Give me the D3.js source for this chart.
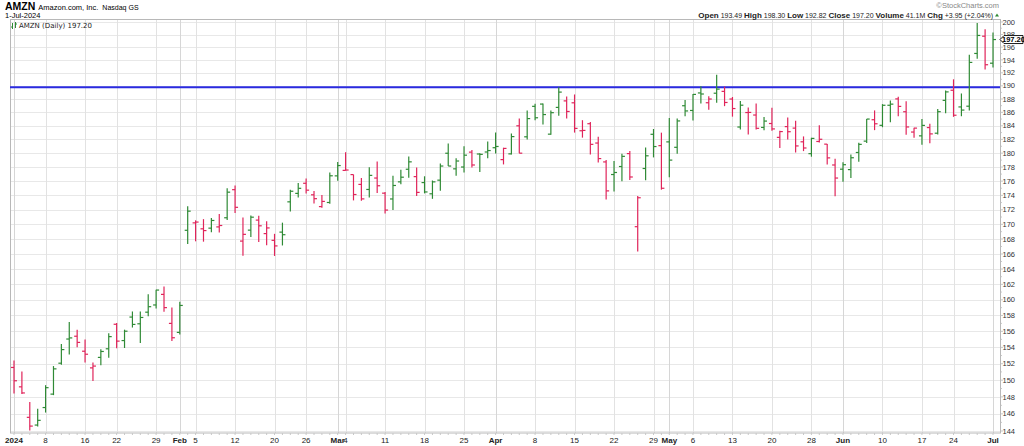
<!DOCTYPE html>
<html><head><meta charset="utf-8">
<script src="https://cdn.jsdelivr.net/npm/d3@7"></script>
<style>body{margin:0;background:#fff}svg{display:block;font-family:"Liberation Sans",Arial,sans-serif}</style>
</head><body><svg id="c" width="1024" height="446"></svg>
<script>
const dates = [
"2024-01-02","2024-01-03","2024-01-04","2024-01-05","2024-01-08","2024-01-09","2024-01-10","2024-01-11","2024-01-12","2024-01-16","2024-01-17","2024-01-18","2024-01-19","2024-01-22","2024-01-23","2024-01-24","2024-01-25","2024-01-26","2024-01-29","2024-01-30","2024-01-31",
"2024-02-01","2024-02-02","2024-02-05","2024-02-06","2024-02-07","2024-02-08","2024-02-09","2024-02-12","2024-02-13","2024-02-14","2024-02-15","2024-02-16","2024-02-20","2024-02-21","2024-02-22","2024-02-23","2024-02-26","2024-02-27","2024-02-28","2024-02-29",
"2024-03-01","2024-03-04","2024-03-05","2024-03-06","2024-03-07","2024-03-08","2024-03-11","2024-03-12","2024-03-13","2024-03-14","2024-03-15","2024-03-18","2024-03-19","2024-03-20","2024-03-21","2024-03-22","2024-03-25","2024-03-26","2024-03-27","2024-03-28",
"2024-04-01","2024-04-02","2024-04-03","2024-04-04","2024-04-05","2024-04-08","2024-04-09","2024-04-10","2024-04-11","2024-04-12","2024-04-15","2024-04-16","2024-04-17","2024-04-18","2024-04-19","2024-04-22","2024-04-23","2024-04-24","2024-04-25","2024-04-26","2024-04-29","2024-04-30",
"2024-05-01","2024-05-02","2024-05-03","2024-05-06","2024-05-07","2024-05-08","2024-05-09","2024-05-10","2024-05-13","2024-05-14","2024-05-15","2024-05-16","2024-05-17","2024-05-20","2024-05-21","2024-05-22","2024-05-23","2024-05-24","2024-05-28","2024-05-29","2024-05-30","2024-05-31",
"2024-06-03","2024-06-04","2024-06-05","2024-06-06","2024-06-07","2024-06-10","2024-06-11","2024-06-12","2024-06-13","2024-06-14","2024-06-17","2024-06-18","2024-06-20","2024-06-21","2024-06-24","2024-06-25","2024-06-26","2024-06-27","2024-06-28",
"2024-07-01"];
const opens = [
151.54,149.20,145.59,144.69,146.74,148.33,152.06,155.04,155.39,153.53,151.49,152.77,153.83,156.89,154.85,157.80,156.95,158.42,159.34,160.70,157.00,
155.87,169.19,170.20,169.39,169.48,169.65,170.90,174.80,167.73,169.21,170.58,168.74,167.83,168.94,173.10,174.28,175.70,174.08,172.44,173.01,
176.75,177.53,176.93,175.54,174.83,176.44,174.31,173.50,175.90,177.69,176.64,175.80,174.22,176.14,179.99,177.75,178.01,180.15,179.88,180.17,
180.79,179.07,179.90,184.00,182.38,186.90,187.24,182.77,186.74,187.72,187.43,183.27,184.31,181.47,178.74,176.94,178.08,179.94,169.68,177.80,182.75,181.09,
181.64,180.85,186.99,186.28,188.92,187.44,188.88,189.16,188.00,183.82,185.97,185.60,183.76,184.34,182.30,183.88,183.66,181.65,179.93,181.70,181.31,178.30,
177.70,177.64,180.10,181.75,184.90,184.07,187.06,188.02,186.09,183.08,182.52,183.74,182.91,187.80,189.33,186.81,186.92,195.01,197.73,
193.49];
const highs = [
152.38,151.05,147.38,146.59,149.40,151.71,154.42,157.17,156.20,154.99,152.15,153.78,155.76,157.05,156.21,158.51,158.51,160.72,161.29,161.73,159.01,
159.76,172.50,170.55,170.71,170.88,171.43,175.00,175.39,170.95,171.21,171.17,170.42,168.71,170.23,174.80,175.75,176.37,174.62,174.05,177.22,
178.73,180.14,176.93,176.46,177.99,178.79,174.47,176.76,177.62,179.53,177.93,176.69,176.09,178.53,181.42,179.26,180.99,180.45,180.00,181.70,
183.00,180.79,182.87,185.10,186.27,187.29,187.34,186.27,189.77,188.38,188.69,184.83,184.57,182.39,179.00,178.87,179.93,180.32,173.92,180.82,183.53,182.99,
185.15,185.10,187.87,188.75,189.94,188.43,191.70,189.89,188.31,187.72,186.72,187.31,185.30,186.67,183.26,185.22,184.76,182.44,182.24,184.08,181.34,179.21,
178.70,179.82,181.50,185.00,186.29,187.23,187.77,188.35,187.67,183.72,185.00,184.29,186.51,189.28,191.00,188.84,194.80,199.84,198.85,
198.30];
const lows = [
148.39,148.33,144.05,144.53,146.15,148.21,151.88,153.12,154.01,152.15,149.91,151.82,152.74,153.90,153.93,156.48,154.55,157.91,158.90,158.49,154.81,
155.62,167.33,167.70,167.65,168.94,168.88,170.58,171.54,165.75,168.28,167.59,167.17,165.74,167.14,171.77,173.70,174.26,172.86,172.27,172.85,
176.07,177.49,173.30,173.26,173.72,174.33,171.47,171.98,175.55,176.47,173.90,174.28,173.52,174.64,178.15,176.75,177.24,177.95,177.31,179.26,
179.95,178.38,179.80,180.00,181.97,184.81,184.20,182.67,185.51,185.08,183.00,182.26,179.82,178.65,173.44,174.56,175.98,176.18,166.32,176.13,179.39,174.80,
176.56,179.91,185.42,184.80,187.31,186.39,187.44,186.93,185.36,183.45,182.73,183.46,183.35,183.28,180.75,181.97,180.08,180.30,179.49,181.55,178.36,173.87,
175.92,176.44,178.75,181.49,183.36,183.79,184.54,185.43,182.67,182.23,181.22,181.43,182.72,185.86,185.33,185.42,186.26,194.20,192.50,
192.82];
const closes = [
149.93,148.47,144.57,145.24,149.10,151.37,153.73,155.18,154.62,153.16,151.71,153.50,155.34,154.78,156.02,156.87,157.75,159.12,161.26,159.00,155.20,
159.28,171.81,170.31,169.15,170.53,169.84,174.45,172.34,168.64,170.98,169.80,169.51,167.08,168.59,174.58,174.99,174.73,173.54,173.16,176.76,
178.22,177.58,174.12,173.51,176.82,175.35,171.96,175.39,176.56,178.75,174.42,174.48,175.90,178.15,178.15,178.87,179.71,178.30,179.83,180.38,
180.97,180.69,182.41,180.00,185.07,185.19,185.67,185.95,189.05,186.13,183.62,183.32,181.28,179.22,174.63,177.23,179.54,176.59,173.67,179.62,180.96,175.00,
179.00,184.72,186.21,188.70,188.76,188.00,189.50,187.48,186.57,187.07,185.99,183.63,184.70,183.54,183.15,183.13,181.05,180.75,182.15,182.02,179.32,176.44,
178.34,179.34,181.28,185.00,184.30,187.06,187.23,186.89,183.83,183.66,184.06,182.81,186.10,189.08,185.57,186.34,193.61,197.85,193.25,
197.20];
const prevClose = 151.94;
const lineLevel = 189.8;
const yTicks = [144,146,148,150,152,154,156,158,160,162,164,166,168,170,172,174,176,178,180,182,184,186,188,190,192,194,196,198,200];
const xTickDates = ["2024-01-02","2024-01-08","2024-01-16","2024-01-22","2024-01-29","2024-02-01","2024-02-05","2024-02-12","2024-02-20","2024-02-26","2024-03-01","2024-03-04","2024-03-11","2024-03-18","2024-03-25","2024-04-01","2024-04-08","2024-04-15","2024-04-22","2024-04-29","2024-05-01","2024-05-06","2024-05-13","2024-05-20","2024-05-28","2024-06-03","2024-06-10","2024-06-17","2024-06-24","2024-07-01"];
const xTickLabels = ["2024","8","16","22","29","Feb","5","12","20","26","Mar","4","11","18","25","Apr","8","15","22","29","May","6","13","20","28","Jun","10","17","24","Jul"];
const xTickBold = [1,0,0,0,0,1,0,0,0,0,1,0,0,0,0,1,0,0,0,0,1,0,0,0,0,1,0,0,0,1];

const L=10, R=1000, T=19.5, B=433;
const GREEN="#2f8a35", RED="#e0245a";
const svg=d3.select("#c");
const x=d3.scalePoint().domain(dates).range([14,993]);
const y=d3.scaleLog().domain([143.77,200.4]).range([B,T]);

// horizontal grid
svg.append("g").selectAll("line").data(yTicks).join("line")
  .attr("x1",L).attr("x2",R).attr("y1",d=>Math.round(y(d))+0.5).attr("y2",d=>Math.round(y(d))+0.5)
  .attr("stroke","#e8e8e8").attr("stroke-width",1);
// vertical grid
svg.append("g").selectAll("line").data(xTickDates).join("line")
  .attr("x1",d=>Math.round(x(d))+0.5).attr("x2",d=>Math.round(x(d))+0.5).attr("y1",T).attr("y2",B)
  .attr("stroke",(d,i)=>xTickBold[i]?"#d6d6d6":"#e2e2e2").attr("stroke-width",1);
// border
svg.append("rect").attr("x",L+0.5).attr("y",T).attr("width",R-L).attr("height",B-T)
  .attr("fill","none").attr("stroke","#b8b8b8").attr("stroke-width",1);
// minor x ticks
svg.append("g").selectAll("line").data(dates).join("line")
  .attr("x1",d=>x(d)).attr("x2",d=>x(d)).attr("y1",B).attr("y2",B+2)
  .attr("stroke","#c8c8c8").attr("stroke-width",1);
// right axis ticks
const minor=d3.range(144,201,1);
svg.append("g").selectAll("line").data(minor).join("line")
  .attr("x1",R).attr("x2",d=>R+(d%2===0?3:2)).attr("y1",d=>y(d)).attr("y2",d=>y(d))
  .attr("stroke","#bbb").attr("stroke-width",0.8);

// blue horizontal line
svg.append("line").attr("x1",L).attr("x2",R).attr("y1",y(lineLevel)).attr("y2",y(lineLevel))
  .attr("stroke","#2a2ae0").attr("stroke-width",2);

// OHLC bars
const idx=d3.range(dates.length);
const col=i=>closes[i]>=(i===0?prevClose:closes[i-1])?GREEN:RED;
const g=svg.append("g");
g.selectAll("line.hl").data(idx).join("line").attr("class","hl")
  .attr("x1",i=>x(dates[i])).attr("x2",i=>x(dates[i]))
  .attr("y1",i=>y(highs[i])).attr("y2",i=>y(lows[i]))
  .attr("stroke",col).attr("stroke-width",1.2);
g.selectAll("line.o").data(idx).join("line").attr("class","o")
  .attr("x1",i=>x(dates[i])-3).attr("x2",i=>x(dates[i]))
  .attr("y1",i=>y(opens[i])).attr("y2",i=>y(opens[i]))
  .attr("stroke",col).attr("stroke-width",1.2);
g.selectAll("line.c").data(idx).join("line").attr("class","c")
  .attr("x1",i=>x(dates[i])).attr("x2",i=>x(dates[i])+3)
  .attr("y1",i=>y(closes[i])).attr("y2",i=>y(closes[i]))
  .attr("stroke",col).attr("stroke-width",1.2);

// right axis labels
svg.append("g").selectAll("text").data(yTicks).join("text")
  .attr("x",R+2.5).attr("y",d=>y(d)).attr("dy","0.35em")
  .attr("font-size",7.5).attr("fill","#333").text(d=>d);

// current price box
const cy=y(closes[closes.length-1]);
svg.append("path").attr("d",`M${R},${cy} L${R+4},${cy-4} L${1023},${cy-4} L${1023},${cy+4} L${R+4},${cy+4} Z`)
  .attr("fill","#fff").attr("stroke","#000").attr("stroke-width",0.9);
svg.append("text").attr("x",1013.5).attr("y",cy).attr("dy","0.35em").attr("text-anchor","middle")
  .attr("font-size",7.5).attr("font-weight","bold").text(closes[closes.length-1].toFixed(2));

// x labels
svg.append("g").selectAll("text").data(xTickDates).join("text")
  .attr("x",d=>x(d)).attr("y",443).attr("text-anchor","middle")
  .attr("font-size",8).attr("fill","#222")
  .attr("font-weight",(d,i)=>xTickBold[i]?"bold":"normal")
  .text((d,i)=>xTickLabels[i]);

// header left
const h=svg.append("text").attr("x",5).attr("y",10);
h.append("tspan").attr("font-size",10.5).attr("font-weight","bold").text("AMZN");
h.append("tspan").attr("font-size",7.5).attr("dx",3).text("Amazon.com, Inc.");
h.append("tspan").attr("font-size",7).attr("dx",4).text("Nasdaq GS");
svg.append("text").attr("x",5).attr("y",18).attr("font-size",7.5).text("1-Jul-2024");

// legend in plot
const lg=svg.append("g");
lg.append("line").attr("x1",12.5).attr("x2",12.5).attr("y1",23).attr("y2",29).attr("stroke",GREEN);
lg.append("line").attr("x1",11).attr("x2",12.5).attr("y1",27).attr("y2",27).attr("stroke",GREEN);
lg.append("line").attr("x1",15.5).attr("x2",15.5).attr("y1",22).attr("y2",28).attr("stroke",GREEN);
lg.append("line").attr("x1",15.5).attr("x2",17).attr("y1",24).attr("y2",24).attr("stroke",GREEN);
lg.append("text").attr("x",19).attr("y",28).attr("font-family","DejaVu Sans").attr("font-size",7).attr("fill","#222")
  .text("AMZN (Daily) 197.20");

// header right
svg.append("text").attr("x",999).attr("y",8).attr("text-anchor","end").attr("font-size",7.5).attr("fill","#888")
  .text("\u00A9StockCharts.com");
const hr=svg.append("text").attr("x",993).attr("y",17.5).attr("text-anchor","end").attr("font-size",7).attr("fill","#222");
const parts=[["Open",1],[" 193.49 ",0],["High",1],[" 198.30 ",0],["Low",1],[" 192.82 ",0],["Close",1],[" 197.20 ",0],["Volume",1],[" 41.1M ",0],["Chg",1],[" +3.95 (+2.04%)",0]];
parts.forEach(p=>hr.append("tspan").attr("font-weight",p[1]?"bold":"normal").attr("font-size",p[1]?8:7).attr("xml:space","preserve").text(p[0]));
svg.append("path").attr("d","M995,16.5 L999,16.5 L997,13.5 Z").attr("fill",GREEN);
</script></body></html>
